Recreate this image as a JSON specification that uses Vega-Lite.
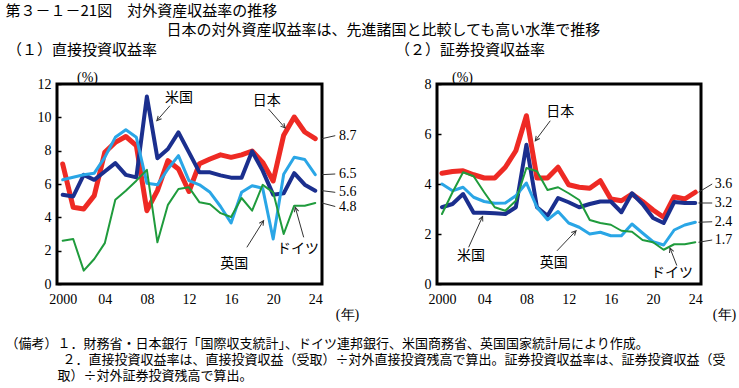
{
  "$schema": "https://vega.github.io/schema/vega-lite/v6.json",
  "background": "white",
  "padding": {"left": 5, "top": 3, "right": 0, "bottom": 0},
  "title": {"text": "第３－１－21図　対外資産収益率の推移", "anchor": "start", "frame": "bounds", "font": "Noto Sans CJK JP", "fontSize": 15, "fontWeight": "normal", "color": "#000", "offset": 4},
  "datasets": {
    "direct": [
      {"year": 2000, "日本": 7.2, "米国": 5.35, "英国": 6.25, "ドイツ": 2.6},
      {"year": 2001, "日本": 4.6, "米国": 5.25, "英国": 6.4, "ドイツ": 2.7},
      {"year": 2002, "日本": 4.5, "米国": 6.55, "英国": 6.55, "ドイツ": 0.8},
      {"year": 2003, "日本": 5.3, "米国": 6.25, "英国": 6.65, "ドイツ": 1.5},
      {"year": 2004, "日本": 7.9, "米国": 6.75, "英国": 7.6, "ドイツ": 2.45},
      {"year": 2005, "日本": 8.5, "米国": 7.25, "英国": 8.8, "ドイツ": 5.05},
      {"year": 2006, "日本": 8.85, "米国": 6.55, "英国": 9.25, "ドイツ": 5.6},
      {"year": 2007, "日本": 8.3, "米国": 6.4, "英国": 8.8, "ドイツ": 6.2},
      {"year": 2008, "日本": 4.4, "米国": 11.25, "英国": 6.05, "ドイツ": 6.85},
      {"year": 2009, "日本": 5.6, "米国": 7.55, "英国": 5.95, "ドイツ": 2.5},
      {"year": 2010, "日本": 7.4, "米国": 8.1, "英国": 6.9, "ドイツ": 4.75},
      {"year": 2011, "日本": 6.9, "米国": 9.1, "英国": 7.7, "ドイツ": 5.7},
      {"year": 2012, "日本": 5.55, "米国": 7.9, "英国": 6.2, "ドイツ": 5.8},
      {"year": 2013, "日本": 7.22, "米国": 6.7, "英国": 5.95, "ドイツ": 4.9},
      {"year": 2014, "日本": 7.5, "米国": 6.7, "英国": 5.5, "ドイツ": 4.78},
      {"year": 2015, "日本": 7.75, "米国": 6.52, "英国": 4.65, "ドイツ": 4.25},
      {"year": 2016, "日本": 7.6, "米国": 6.38, "英国": 3.66, "ドイツ": 4.02},
      {"year": 2017, "日本": 7.75, "米国": 6.38, "英国": 5.5, "ドイツ": 5.16},
      {"year": 2018, "日本": 7.98, "米国": 7.96, "英国": 5.9, "ドイツ": 4.4},
      {"year": 2019, "日本": 7.3, "米国": 6.8, "英国": 5.75, "ドイツ": 5.95},
      {"year": 2020, "日本": 6.18, "米国": 5.36, "英国": 2.7, "ドイツ": 5.5},
      {"year": 2021, "日本": 8.93, "米国": 5.44, "英国": 6.58, "ドイツ": 3.0},
      {"year": 2022, "日本": 10.02, "米国": 6.65, "英国": 7.6, "ドイツ": 4.7},
      {"year": 2023, "日本": 9.12, "米国": 5.96, "英国": 7.47, "ドイツ": 4.7},
      {"year": 2024, "日本": 8.72, "米国": 5.6, "英国": 6.56, "ドイツ": 4.86}
    ],
    "portfolio": [
      {"year": 2000, "日本": 4.43, "米国": 3.07, "英国": 4.0, "ドイツ": 2.8},
      {"year": 2001, "日本": 4.5, "米国": 3.2, "英国": 3.73, "ドイツ": 3.67},
      {"year": 2002, "日本": 4.53, "米国": 3.6, "英国": 3.87, "ドイツ": 4.47},
      {"year": 2003, "日本": 4.37, "米国": 2.85, "英国": 3.47, "ドイツ": 4.31},
      {"year": 2004, "日本": 4.24, "米国": 2.85, "英国": 3.3, "ドイツ": 3.67},
      {"year": 2005, "日本": 4.24, "米国": 2.83, "英国": 3.23, "ドイツ": 3.07},
      {"year": 2006, "日本": 4.67, "米国": 2.8, "英国": 3.24, "ドイツ": 2.93},
      {"year": 2007, "日本": 5.33, "米国": 3.07, "英国": 3.53, "ドイツ": 3.33},
      {"year": 2008, "日本": 6.73, "米国": 5.57, "英国": 4.04, "ドイツ": 4.64},
      {"year": 2009, "日本": 4.24, "米国": 3.07, "英国": 3.07, "ドイツ": 4.51},
      {"year": 2010, "日本": 4.24, "米国": 2.73, "英国": 2.57, "ドイツ": 3.76},
      {"year": 2011, "日本": 4.67, "米国": 3.44, "英国": 2.9, "ドイツ": 3.87},
      {"year": 2012, "日本": 3.97, "米国": 3.27, "英国": 2.44, "ドイツ": 3.63},
      {"year": 2013, "日本": 3.87, "米国": 3.07, "英国": 2.27, "ドイツ": 3.36},
      {"year": 2014, "日本": 3.83, "米国": 3.2, "英国": 2.0, "ドイツ": 2.56},
      {"year": 2015, "日本": 4.13, "米国": 3.3, "英国": 2.07, "ドイツ": 2.44},
      {"year": 2016, "日本": 3.4, "米国": 3.3, "英国": 1.93, "ドイツ": 2.37},
      {"year": 2017, "日本": 3.33, "米国": 2.87, "英国": 1.93, "ドイツ": 2.13},
      {"year": 2018, "日本": 3.6, "米国": 3.63, "英国": 2.4, "ドイツ": 2.09},
      {"year": 2019, "日本": 3.3, "米国": 3.2, "英国": 2.04, "ドイツ": 1.76},
      {"year": 2020, "日本": 2.96, "米国": 2.64, "英国": 1.69, "ドイツ": 1.67},
      {"year": 2021, "日本": 2.67, "米国": 2.44, "英国": 1.56, "ドイツ": 1.37},
      {"year": 2022, "日本": 3.49, "米国": 3.28, "英国": 2.16, "ドイツ": 1.59},
      {"year": 2023, "日本": 3.4, "米国": 3.24, "英国": 2.36, "ドイツ": 1.59},
      {"year": 2024, "日本": 3.67, "米国": 3.24, "英国": 2.47, "ドイツ": 1.67}
    ],
    "annDirect": [
      {"label": "米国", "lx": 2011.05, "ly": 11.14, "sx": 2010.2, "sy": 10.7, "tx": 2008.95, "ty": 9.8},
      {"label": "日本", "lx": 2019.4, "ly": 11.0, "sx": 2019.56, "sy": 10.5, "tx": 2021.14, "ty": 9.36},
      {"label": "英国", "lx": 2016.3, "ly": 1.2, "sx": 2017.5, "sy": 2.2, "tx": 2019.09, "ty": 3.8},
      {"label": "ドイツ", "lx": 2022.35, "ly": 2.08, "sx": 2022.9, "sy": 2.8, "tx": 2022.1, "ty": 4.6}
    ],
    "annPortfolio": [
      {"label": "日本", "lx": 2011.2, "ly": 6.9, "sx": 2010.26, "sy": 6.53, "tx": 2008.84, "ty": 5.73},
      {"label": "米国", "lx": 2002.75, "ly": 1.11, "sx": 2002.53, "sy": 1.47, "tx": 2003.85, "ty": 2.7},
      {"label": "英国", "lx": 2010.6, "ly": 0.84, "sx": 2010.9, "sy": 1.33, "tx": 2012.7, "ty": 2.13},
      {"label": "ドイツ", "lx": 2021.8, "ly": 0.44, "sx": 2022.25, "sy": 0.74, "tx": 2021.6, "ty": 1.44}
    ],
    "endDirect": [
      {"label": "8.7", "end": 8.72, "pos": 8.9},
      {"label": "6.5", "end": 6.56, "pos": 6.6},
      {"label": "5.6", "end": 5.6, "pos": 5.5},
      {"label": "4.8", "end": 4.86, "pos": 4.65}
    ],
    "endPortfolio": [
      {"label": "3.6", "end": 3.67, "pos": 4.0},
      {"label": "3.2", "end": 3.24, "pos": 3.24},
      {"label": "2.4", "end": 2.47, "pos": 2.49},
      {"label": "1.7", "end": 1.67, "pos": 1.76}
    ]
  },
  "vconcat": [
    {
      "title": {"text": "\u200b　　　　取）÷対外証券投資残高で算出。", "orient": "bottom", "anchor": "start", "frame": "bounds", "font": "Noto Sans CJK JP", "fontSize": 13, "fontWeight": "normal", "color": "#000", "offset": 3},
      "vconcat": [
        {
          "title": {"text": "日本の対外資産収益率は、先進諸国と比較しても高い水準で推移", "anchor": "middle", "frame": "bounds", "font": "Noto Sans CJK JP", "fontSize": 15, "fontWeight": "normal", "color": "#000", "offset": 4, "dx": 12},
          "vconcat": [
            {
              "title": {"text": "２．直接投資収益率は、直接投資収益（受取）÷対外直接投資残高で算出。証券投資収益率は、証券投資収益（受", "orient": "bottom", "anchor": "start", "frame": "bounds", "dx": 57, "font": "Noto Sans CJK JP", "fontSize": 13, "fontWeight": "normal", "color": "#000", "offset": 3},
              "vconcat": [
                {
                  "title": {"text": "（備考）１．財務省・日本銀行「国際収支統計」、ドイツ連邦銀行、米国商務省、英国国家統計局により作成。", "orient": "bottom", "anchor": "start", "frame": "bounds", "font": "Noto Sans CJK JP", "fontSize": 13, "fontWeight": "normal", "color": "#000", "offset": 15},
                  "spacing": 115,
                  "bounds": "flush",
                  "hconcat": [
                    {
                      "width": 265,
                      "height": 200,
                      "title": {"text": "（１）直接投資収益率", "anchor": "start", "frame": "group", "dx": -50, "offset": 12, "font": "Noto Sans CJK JP", "fontSize": 15, "fontWeight": "normal", "color": "#000"},
                      "layer": [
                        {
                          "data": {"name": "direct"},
                          "transform": [{"fold": ["日本", "米国", "英国", "ドイツ"], "as": ["country", "value"]}],
                          "mark": {"type": "line", "strokeJoin": "round", "strokeCap": "round"},
                          "encoding": {
                            "x": {"field": "year", "type": "quantitative", "scale": {"domain": [1999.46, 2024.64], "nice": false, "zero": false},
                              "axis": {"values": [2000, 2004, 2008, 2012, 2016, 2020, 2024], "labelExpr": "datum.value == 2000 ? '2000' : format(datum.value % 100, '02d')", "labelOverlap": false, "ticks": false, "domain": false, "grid": false, "labelFont": "Liberation Serif", "labelFontSize": 14, "labelColor": "#000", "labelPadding": 8, "labelFlush": false, "title": "(年)", "titleX": 290, "titleY": 30, "titleAlign": "center", "titleBaseline": "middle", "titleFont": "Liberation Serif", "titleFontSize": 14, "titleFontWeight": "normal", "titleColor": "#000"}},
                            "y": {"field": "value", "type": "quantitative", "scale": {"domain": [0, 12], "nice": false},
                              "axis": {"values": [0, 2, 4, 6, 8, 10, 12], "tickCount": 7, "labelOverlap": false, "tickSize": -4, "tickWidth": 1.5, "tickColor": "#000", "domain": false, "grid": false, "labelFont": "Liberation Serif", "labelFontSize": 14, "labelColor": "#000", "labelPadding": 10, "labelFlush": false, "title": "(%)", "titleAngle": 0, "titleX": 30, "titleY": -7, "titleAlign": "center", "titleBaseline": "middle", "titleFont": "Liberation Serif", "titleFontSize": 14, "titleFontWeight": "normal", "titleColor": "#000"}},
                            "color": {"field": "country", "type": "nominal", "scale": {"domain": ["日本", "米国", "英国", "ドイツ"], "range": ["#ee2a24", "#1b2f8e", "#2aa6e6", "#1f9b3c"]}, "legend": null},
                            "strokeWidth": {"field": "country", "type": "nominal", "scale": {"domain": ["日本", "米国", "英国", "ドイツ"], "range": [5, 2, 2, 1.8]}, "legend": null}
                          }
                        },
                        {
                          "data": {"name": "annDirect"},
                          "mark": {"type": "rule", "color": "#333", "strokeWidth": 1},
                          "encoding": {"x": {"field": "sx", "type": "quantitative"}, "y": {"field": "sy", "type": "quantitative"}, "x2": {"field": "tx"}, "y2": {"field": "ty"}}
                        },
                        {
                          "data": {"name": "annDirect"},
                          "transform": [{"calculate": "atan2((datum.tx - datum.sx) * 10.524, (datum.ty - datum.sy) * 16.667) * 180 / PI", "as": "ang"}],
                          "mark": {"type": "point", "shape": "M -0.45 0.9 L 0 0 L 0.45 0.9", "filled": false, "stroke": "#333", "strokeWidth": 1, "size": 100, "opacity": 1},
                          "encoding": {"x": {"field": "tx", "type": "quantitative"}, "y": {"field": "ty", "type": "quantitative"}, "angle": {"field": "ang", "type": "quantitative", "scale": null}}
                        },
                        {
                          "data": {"name": "annDirect"},
                          "mark": {"type": "text", "font": "Noto Sans CJK JP", "fontSize": 14, "color": "#000", "align": "center", "baseline": "middle"},
                          "encoding": {"x": {"field": "lx", "type": "quantitative"}, "y": {"field": "ly", "type": "quantitative"}, "text": {"field": "label"}}
                        },
                        {
                          "data": {"name": "endDirect"},
                          "mark": {"type": "rule", "color": "#333", "strokeWidth": 1},
                          "encoding": {"x": {"datum": 2024.64, "type": "quantitative"}, "x2": {"datum": 2025.9}, "y": {"field": "end", "type": "quantitative"}, "y2": {"field": "pos"}}
                        },
                        {
                          "data": {"name": "endDirect"},
                          "mark": {"type": "text", "font": "Liberation Serif", "fontSize": 14, "color": "#000", "align": "left", "baseline": "middle"},
                          "encoding": {"x": {"datum": 2026.25, "type": "quantitative"}, "y": {"field": "pos", "type": "quantitative"}, "text": {"field": "label"}}
                        }
                      ]
                    },
                    {
                      "width": 264,
                      "height": 200,
                      "title": {"text": "（２）証券投資収益率", "anchor": "start", "frame": "group", "dx": -42, "offset": 12, "font": "Noto Sans CJK JP", "fontSize": 15, "fontWeight": "normal", "color": "#000"},
                      "layer": [
                        {
                          "data": {"name": "portfolio"},
                          "transform": [{"fold": ["日本", "米国", "英国", "ドイツ"], "as": ["country", "value"]}],
                          "mark": {"type": "line", "strokeJoin": "round", "strokeCap": "round"},
                          "encoding": {
                            "x": {"field": "year", "type": "quantitative", "scale": {"domain": [1999.53, 2024.54], "nice": false, "zero": false},
                              "axis": {"values": [2000, 2004, 2008, 2012, 2016, 2020, 2024], "labelExpr": "datum.value == 2000 ? '2000' : format(datum.value % 100, '02d')", "labelOverlap": false, "ticks": false, "domain": false, "grid": false, "labelFont": "Liberation Serif", "labelFontSize": 14, "labelColor": "#000", "labelPadding": 8, "labelFlush": false, "title": "(年)", "titleX": 287, "titleY": 30, "titleAlign": "center", "titleBaseline": "middle", "titleFont": "Liberation Serif", "titleFontSize": 14, "titleFontWeight": "normal", "titleColor": "#000"}},
                            "y": {"field": "value", "type": "quantitative", "scale": {"domain": [0, 8], "nice": false},
                              "axis": {"values": [0, 2, 4, 6, 8], "tickCount": 5, "labelOverlap": false, "tickSize": -4, "tickWidth": 1.5, "tickColor": "#000", "domain": false, "grid": false, "labelFont": "Liberation Serif", "labelFontSize": 14, "labelColor": "#000", "labelPadding": 10, "labelFlush": false, "title": "(%)", "titleAngle": 0, "titleX": 25, "titleY": -7, "titleAlign": "center", "titleBaseline": "middle", "titleFont": "Liberation Serif", "titleFontSize": 14, "titleFontWeight": "normal", "titleColor": "#000"}},
                            "color": {"field": "country", "type": "nominal", "scale": {"domain": ["日本", "米国", "英国", "ドイツ"], "range": ["#ee2a24", "#1b2f8e", "#2aa6e6", "#1f9b3c"]}, "legend": null},
                            "strokeWidth": {"field": "country", "type": "nominal", "scale": {"domain": ["日本", "米国", "英国", "ドイツ"], "range": [5, 2, 2, 1.8]}, "legend": null}
                          }
                        },
                        {
                          "data": {"name": "annPortfolio"},
                          "mark": {"type": "rule", "color": "#333", "strokeWidth": 1},
                          "encoding": {"x": {"field": "sx", "type": "quantitative"}, "y": {"field": "sy", "type": "quantitative"}, "x2": {"field": "tx"}, "y2": {"field": "ty"}}
                        },
                        {
                          "data": {"name": "annPortfolio"},
                          "transform": [{"calculate": "atan2((datum.tx - datum.sx) * 10.556, (datum.ty - datum.sy) * 25) * 180 / PI", "as": "ang"}],
                          "mark": {"type": "point", "shape": "M -0.45 0.9 L 0 0 L 0.45 0.9", "filled": false, "stroke": "#333", "strokeWidth": 1, "size": 100, "opacity": 1},
                          "encoding": {"x": {"field": "tx", "type": "quantitative"}, "y": {"field": "ty", "type": "quantitative"}, "angle": {"field": "ang", "type": "quantitative", "scale": null}}
                        },
                        {
                          "data": {"name": "annPortfolio"},
                          "mark": {"type": "text", "font": "Noto Sans CJK JP", "fontSize": 14, "color": "#000", "align": "center", "baseline": "middle"},
                          "encoding": {"x": {"field": "lx", "type": "quantitative"}, "y": {"field": "ly", "type": "quantitative"}, "text": {"field": "label"}}
                        },
                        {
                          "data": {"name": "endPortfolio"},
                          "mark": {"type": "rule", "color": "#333", "strokeWidth": 1},
                          "encoding": {"x": {"datum": 2024.3, "type": "quantitative"}, "x2": {"datum": 2025.6}, "y": {"field": "end", "type": "quantitative"}, "y2": {"field": "pos"}}
                        },
                        {
                          "data": {"name": "endPortfolio"},
                          "mark": {"type": "text", "font": "Liberation Serif", "fontSize": 14, "color": "#000", "align": "left", "baseline": "middle"},
                          "encoding": {"x": {"datum": 2025.85, "type": "quantitative"}, "y": {"field": "pos", "type": "quantitative"}, "text": {"field": "label"}}
                        }
                      ]
                    }
                  ]
                }
              ]
            }
          ]
        }
      ]
    }
  ],
  "config": {
    "view": {"stroke": "#000", "strokeWidth": 3},
    "font": "Noto Sans CJK JP",
    "axis": {"labelOverlap": false},
    "axisY": {"labelOverlap": false}
  }
}
